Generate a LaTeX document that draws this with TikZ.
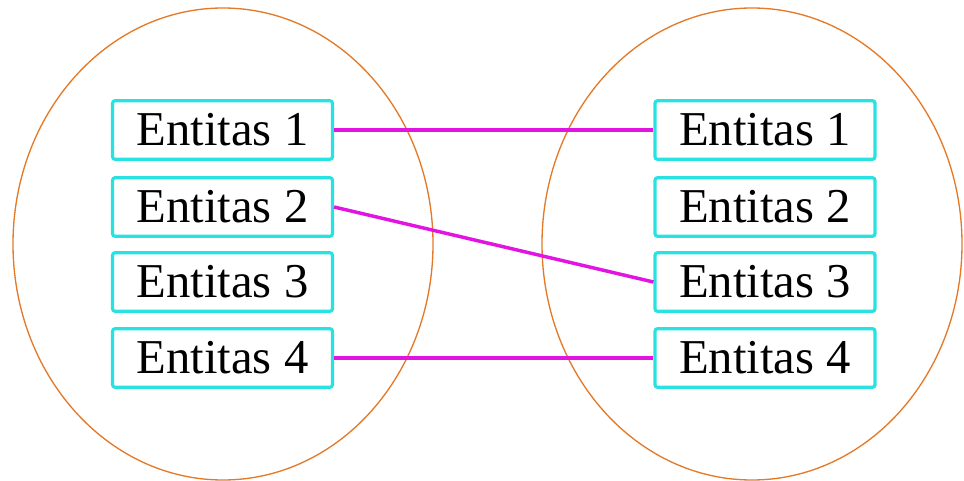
\documentclass[tikz,border=0pt]{standalone}
\usepackage{fontspec}
\setmainfont{Liberation Serif}
\definecolor{setorange}{RGB}{228,122,40}
\definecolor{entcyan}{RGB}{40,226,226}
\definecolor{linkmagenta}{RGB}{226,20,226}
\begin{document}
\begin{tikzpicture}[x=0.75pt,y=-0.75pt,
  entbox/.style={draw=entcyan,line width=2.4pt,rounded corners=2pt,
    minimum width=165pt,minimum height=44pt,inner sep=0pt,
    font=\fontsize{36.5}{42}\selectfont},
  link/.style={draw=linkmagenta,line width=2.6pt}]
  \useasboundingbox (0,0) rectangle (964,481);

  % Coordinates
  \coordinate (leftset) at (223,244);
  \coordinate (rightset) at (752,244);

  % Sets
  \draw[setorange,line width=1pt] (leftset) ellipse [x radius=210, y radius=236];
  \draw[setorange,line width=1pt] (rightset) ellipse [x radius=210, y radius=236];

  % Entities
  \foreach \i/\y in {1/130,2/207,3/282,4/358} {
    \node[entbox] (L\i) at (222.5,\y) {Entitas \i};
    \node[entbox] (R\i) at (765,\y) {Entitas \i};
  }

  % Lines
  \draw[link] (L1.east) -- (R1.west);
  \draw[link] (L2.east) -- (R3.west);
  \draw[link] (L4.east) -- (R4.west);
\end{tikzpicture}
\end{document}
